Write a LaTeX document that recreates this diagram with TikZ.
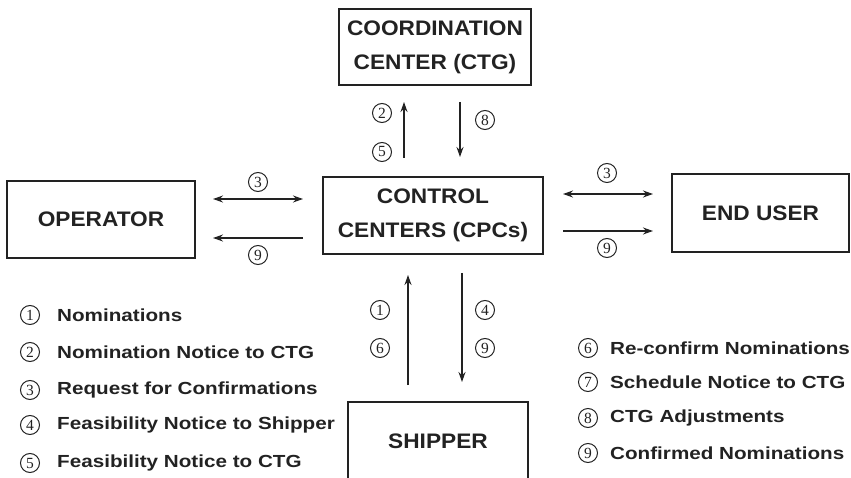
\documentclass[tikz,border=0pt]{standalone}
\usepackage{fontspec}
\setmainfont{Liberation Sans}
\newfontfamily\numfont{Liberation Serif}
\usetikzlibrary{arrows.meta}
\definecolor{ink}{HTML}{222222}
\newcommand{\boxfont}{\fontsize{21}{34}\selectfont\bfseries}
\newcommand{\legfont}{\fontsize{17.5}{20}\selectfont\bfseries}
\tikzset{
  box/.style={draw=ink, line width=1.2pt, text=ink, inner sep=0pt, align=center, font=\boxfont},
  arr/.style={draw=ink, line width=1.3pt, -{Stealth[length=10pt,width=7pt]}},
  darr/.style={draw=ink, line width=1.3pt, {Stealth[length=10pt,width=7pt]}-{Stealth[length=10pt,width=7pt]}},
  num/.style={circle, draw=ink, line width=1pt, text=ink, inner sep=0pt, minimum size=19pt, font=\numfont\fontsize{15.5}{16}\selectfont},
  leg/.style={text=ink, inner sep=0pt, anchor=west, font=\legfont},
}
\begin{document}
\begin{tikzpicture}[x=1pt,y=-1pt]
\useasboundingbox (0,0) rectangle (851,478);
% boxes
\node[box, minimum width=192pt, minimum height=76pt] (ctg) at (435,47) {\scalebox{1.08}[1]{COORDINATION}\\\scalebox{1.08}[1]{CENTER (CTG)}};
\node[box, minimum width=188pt, minimum height=77pt] (op) at (101,219.5) {\scalebox{1.08}[1]{OPERATOR}};
\node[box, minimum width=220pt, minimum height=77pt] (cpc) at (433,215.5) {\scalebox{1.08}[1]{CONTROL}\\\scalebox{1.08}[1]{CENTERS (CPCs)}};
\node[box, minimum width=177pt, minimum height=78pt] (eu) at (760.5,213) {\scalebox{1.08}[1]{END USER}};
\node[box, minimum width=180pt, minimum height=78pt] (ship) at (438,441) {\scalebox{1.08}[1]{SHIPPER}};
% arrow end points
\coordinate (c1a) at (404,158); \coordinate (c1b) at (404,102);
\coordinate (c2a) at (460,102); \coordinate (c2b) at (460,157);
\coordinate (o1a) at (213,199); \coordinate (o1b) at (303,199);
\coordinate (o2a) at (303,238); \coordinate (o2b) at (213,238);
\coordinate (e1a) at (563,194); \coordinate (e1b) at (653,194);
\coordinate (e2a) at (563,231); \coordinate (e2b) at (653,231);
\coordinate (s1a) at (408,385); \coordinate (s1b) at (408,275);
\coordinate (s2a) at (462,273); \coordinate (s2b) at (462,382);
\draw[arr] (c1a) -- (c1b);
\draw[arr] (c2a) -- (c2b);
\draw[darr] (o1a) -- (o1b);
\draw[arr] (o2a) -- (o2b);
\draw[darr] (e1a) -- (e1b);
\draw[arr] (e2a) -- (e2b);
\draw[arr] (s1a) -- (s1b);
\draw[arr] (s2a) -- (s2b);
% arrow labels
\node[num] (l2) at (382,113) {2};
\node[num] (l5) at (382,152) {5};
\node[num] (l8) at (485,120) {8};
\node[num] (lo3) at (258,182) {3};
\node[num] (lo9) at (258,255) {9};
\node[num] (le3) at (607,173) {3};
\node[num] (le9) at (607,248) {9};
\node[num] (ls1) at (380,310) {1};
\node[num] (ls6) at (380,348) {6};
\node[num] (ls4) at (485,310) {4};
\node[num] (ls9) at (485,348) {9};
% legend left
\node[num] (k1) at (30,315) {1};
\node[num] (k2) at (30,352) {2};
\node[num] (k3) at (30,390) {3};
\node[num] (k4) at (30,425) {4};
\node[num] (k5) at (30,463) {5};
\node[leg] (t1) at (57,315) {\scalebox{1.18}[1]{Nominations}};
\node[leg] (t2) at (57,352) {\scalebox{1.18}[1]{Nomination Notice to CTG}};
\node[leg] (t3) at (57,390) {\scalebox{1.18}[1]{Request for Confirmations}};
\node[leg] (t4) at (57,425) {\scalebox{1.18}[1]{Feasibility Notice to Shipper}};
\node[leg] (t5) at (57,463) {\scalebox{1.18}[1]{Feasibility Notice to CTG}};
% legend right
\node[num] (k6) at (588,348) {6};
\node[num] (k7) at (588,382) {7};
\node[num] (k8) at (588,418) {8};
\node[num] (k9) at (588,453) {9};
\node[leg] (t6) at (610,348) {\scalebox{1.18}[1]{Re-confirm Nominations}};
\node[leg] (t7) at (610,382) {\scalebox{1.18}[1]{Schedule Notice to CTG}};
\node[leg] (t8) at (610,418) {\scalebox{1.18}[1]{CTG Adjustments}};
\node[leg] (t9) at (610,453) {\scalebox{1.18}[1]{Confirmed Nominations}};
\end{tikzpicture}
\end{document}
